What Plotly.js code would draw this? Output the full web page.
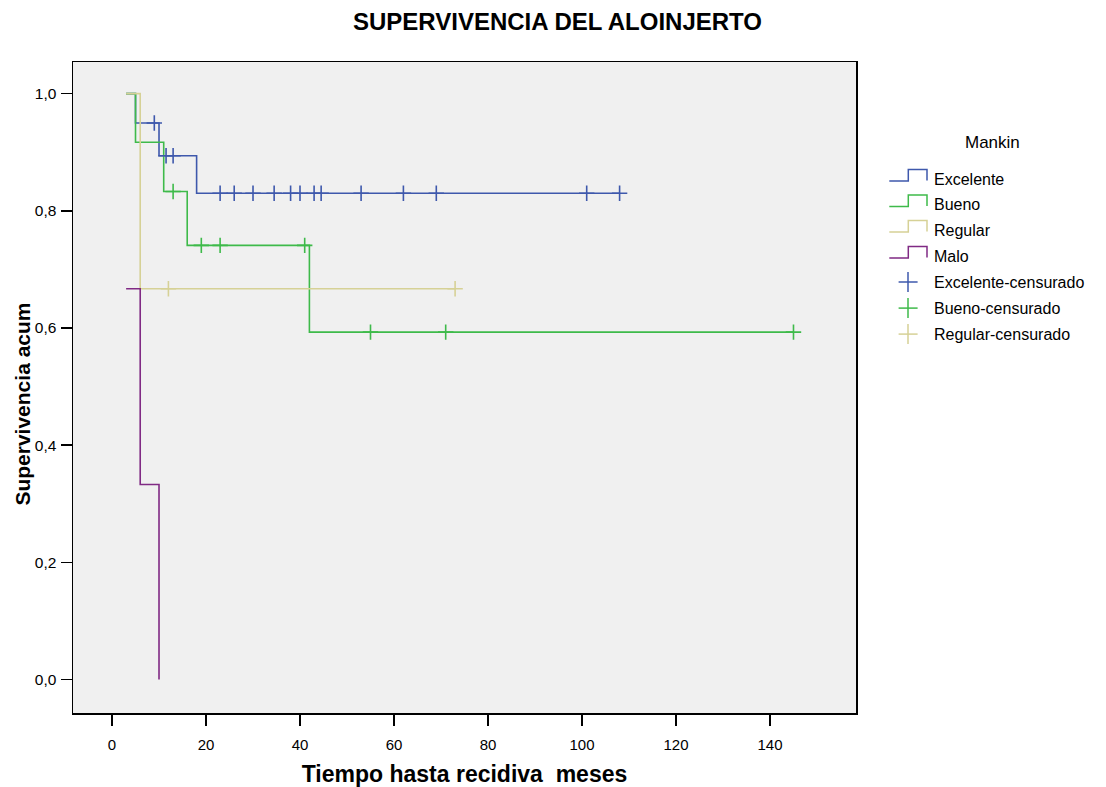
<!DOCTYPE html>
<html>
<head>
<meta charset="utf-8">
<script src="https://cdn.plot.ly/plotly-3.0.1.min.js"></script>
<style>html,body{margin:0;padding:0;background:#fff;}#chart{width:1106px;height:787px;}</style>
</head>
<body>
<div id="chart"></div>
<script>
// ---- Data ----
const groups = ["Excelente", "Bueno", "Regular", "Malo"];
const groupColors = ["rgb(62,88,172)", "rgb(62,186,74)", "rgb(214,209,150)", "rgb(128,42,132)"];

// Kaplan-Meier step curves: times (months) and cumulative survival
const excelenteTimes = [3, 5, 10, 18, 108];
const excelenteSurv  = [1.0, 0.950, 0.894, 0.830, 0.830];
const buenoTimes     = [3, 5, 11, 16, 42, 145];
const buenoSurv      = [1.0, 0.917, 0.833, 0.741, 0.593, 0.593];
const regularTimes   = [3, 6, 73];
const regularSurv    = [1.0, 0.667, 0.667];
const maloTimes      = [3, 6, 10];
const maloSurv       = [0.667, 0.333, 0.0];

// Censored observations (months)
const excelenteCens = [9, 11.5, 13, 23, 26, 30, 34.5, 38, 40, 43, 44.5, 53, 62, 69, 101, 108];
const buenoCens     = [13, 19, 23, 41, 55, 71, 145];
const regularCens   = [12, 73];

const xTickVals = [0, 20, 40, 60, 80, 100, 120, 140];
const yTickVals = [0, 0.2, 0.4, 0.6, 0.8, 1.0];

const titleText  = "SUPERVIVENCIA DEL ALOINJERTO";
const xTitleText = "Tiempo hasta recidiva  meses";
const yTitleText = "Supervivencia acum";
const legendTitle = "Mankin";
const legendLabels = ["Excelente", "Bueno", "Regular", "Malo",
                      "Excelente-censurado", "Bueno-censurado", "Regular-censurado"];

// ---- Helpers ----
function survAt(times, surv, t) {
  let v = surv[0];
  for (let i = 0; i < times.length; i++) { if (times[i] <= t) v = surv[i]; }
  return v;
}

const curveTimes = [excelenteTimes, buenoTimes, regularTimes, maloTimes];
const curveSurv  = [excelenteSurv, buenoSurv, regularSurv, maloSurv];
const censTimes  = [excelenteCens, buenoCens, regularCens];

const FONT = "Liberation Sans, Arial, Helvetica, sans-serif";
const traces = [];
for (let g = 0; g < 4; g++) {
  traces.push({
    type: "scatter", mode: "lines", name: groups[g],
    x: curveTimes[g], y: curveSurv[g],
    line: {shape: "hv", color: groupColors[g], width: 1.6},
    showlegend: false, hoverinfo: "x+y"
  });
}
for (let g = 0; g < 3; g++) {
  traces.push({
    type: "scatter", mode: "markers", name: groups[g] + "-censurado",
    x: censTimes[g], y: censTimes[g].map(t => survAt(curveTimes[g], curveSurv[g], t)),
    marker: {symbol: "cross-thin", size: 11, color: groupColors[g], line: {color: groupColors[g], width: 1.6}},
    showlegend: false, hoverinfo: "x+y"
  });
}

// ---- Layout geometry (pixels) ----
const W = 1106, H = 787;
const L = 72.7, R = 855.7, T = 61.7, B = 712.7;
const px = x => (x - L) / (R - L);
const py = y => (B - y) / (B - T);

// Custom legend (stepped icons like the reference)
const shapes = [];
const annotations = [];
const rowY = [179.3, 204.7, 230.2, 256.2, 282.2, 308.3, 334.3];
annotations.push({xref: "paper", yref: "paper", x: px(991.7), y: py(142), xanchor: "center", yanchor: "middle",
  text: legendTitle, showarrow: false, font: {family: FONT, size: 17, color: "#000"}});
for (let i = 0; i < 7; i++) {
  const c = rowY[i];
  if (i < 4) {
    const col = groupColors[i];
    shapes.push({type: "path", xref: "paper", yref: "paper",
      path: `M ${px(889)} ${py(c + 1.5)} L ${px(908)} ${py(c + 1.5)} L ${px(908)} ${py(c - 10)} L ${px(926.7)} ${py(c - 10)} L ${px(926.7)} ${py(c + 1)}`,
      line: {color: col, width: 1.5}});
  } else {
    const col = groupColors[i - 4];
    shapes.push({type: "line", xref: "paper", yref: "paper", x0: px(898.3), x1: px(917.3), y0: py(c - 0.5), y1: py(c - 0.5), line: {color: col, width: 1.5}});
    shapes.push({type: "line", xref: "paper", yref: "paper", x0: px(907.7), x1: px(907.7), y0: py(c - 10.5), y1: py(c + 9.5), line: {color: col, width: 1.5}});
  }
  annotations.push({xref: "paper", yref: "paper", x: px(932), y: py(c), xanchor: "left", yanchor: "middle",
    text: legendLabels[i], showarrow: false, font: {family: FONT, size: 16, color: "#000"}});
}
// Y axis title, placed where the reference has it
annotations.push({xref: "paper", yref: "paper", x: px(22), y: py(404), xanchor: "center", yanchor: "middle",
  text: yTitleText, textangle: -90, showarrow: false,
  font: {family: FONT, size: 21, color: "#000", weight: "bold"}});

const layout = {
  width: W, height: H,
  margin: {l: L, r: W - R, t: T, b: H - B, pad: 0},
  paper_bgcolor: "#ffffff", plot_bgcolor: "#f0f0f0",
  separators: ",.",
  font: {family: FONT, size: 15, color: "#000"},
  title: {text: titleText, font: {family: FONT, size: 24, color: "#000", weight: "bold"},
          xref: "container", yref: "container", x: 557.5 / W, y: 1 - 22 / H, xanchor: "center", yanchor: "middle"},
  xaxis: {
    range: [-8.3, 158.3], tickvals: xTickVals, ticktext: xTickVals.map(String),
    showgrid: false, zeroline: false, showline: true, mirror: true, linecolor: "#000", linewidth: 1.5,
    ticks: "outside", ticklen: 11, tickwidth: 1.5, tickcolor: "#000",
    tickfont: {family: FONT, size: 15, color: "#000"}, ticklabelstandoff: 6,
    title: {text: xTitleText, font: {family: FONT, size: 23, color: "#000", weight: "bold"}, standoff: 17}
  },
  yaxis: {
    range: [-0.057, 1.054], tickvals: yTickVals, tickformat: ".1f",
    showgrid: false, zeroline: false, showline: true, mirror: true, linecolor: "#000", linewidth: 1.5,
    ticks: "outside", ticklen: 11, tickwidth: 1.5, tickcolor: "#000",
    tickfont: {family: FONT, size: 15.5, color: "#000"}, ticklabelstandoff: 1
  },
  shapes: shapes,
  annotations: annotations,
  showlegend: false
};

Plotly.newPlot("chart", traces, layout, {displayModeBar: false, staticPlot: true});
</script>
</body>
</html>
